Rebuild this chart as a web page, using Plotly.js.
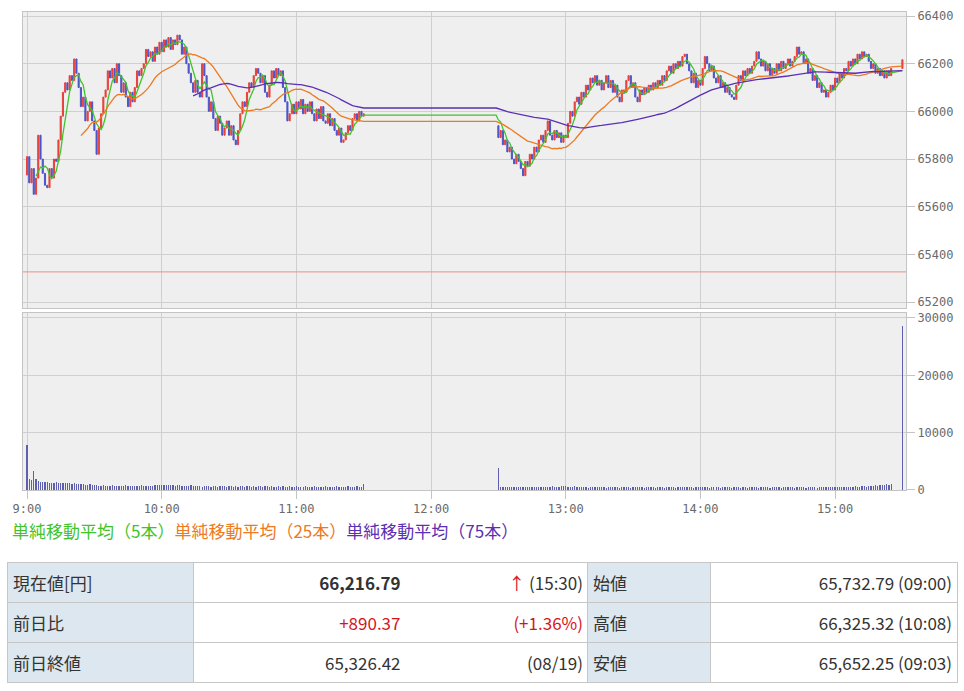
<!DOCTYPE html>
<html><head><meta charset="utf-8">
<script src="https://cdn.plot.ly/plotly-3.0.1.min.js"></script>
<style>
body{margin:0;background:#fff;width:964px;height:691px;overflow:hidden;position:relative;font-family:"Noto Sans CJK JP","Noto Sans",sans-serif;}
#chart{position:absolute;left:0;top:0;width:964px;height:520px;}
#legend{position:absolute;left:12px;top:520px;font-size:17px;line-height:22px;white-space:nowrap;}
table{position:absolute;left:7px;top:562px;width:950px;border-collapse:collapse;font-size:17px;color:#333;table-layout:fixed;}
td{height:39px;border:1px solid #c6c6c6;padding:0 5px;white-space:nowrap;}
td.h{background:#dde7ef;text-align:left;}
td.v{text-align:right;}
td.a{border-right:none;}
td.b{border-left:none;padding-right:4px;}
.red{color:#d7141e;}
</style>
</head><body>
<div id="chart"></div>
<div id="legend"></div>
<table id="tbl"></table>
<script>
// ---- data ----
const amStartMin = 0;         // 9:00
const pmStartMin = 210;       // 12:30
const closeAuctionMin = 390;  // 15:30
const dayOpen = 65732.79;
const pmOpen = 65940;
const prevClose = 65326.42;

const amClose = [
65810,65700,65760,65652,65720,65900,65800,65740,65690,65680,65760,65720,65800,65790,65880,65980,66080,66120,66090,66150,66130,66220,66160,66100,66020,66060,65960,66000,66040,65960,
65920,65820,65930,65990,66060,66090,66170,66140,66180,66120,66200,66150,66080,66120,66060,66020,66080,66040,66100,66170,66150,66180,66200,66260,66230,66250,66210,66270,66240,66290,
66250,66300,66270,66310,66260,66300,66280,66320,66300,66240,66270,66200,66160,66120,66080,66130,66080,66060,66200,66150,66060,66000,66040,65970,65920,65980,65950,65900,65930,65960,
65900,65940,65880,65860,65920,65990,66040,66020,66080,66120,66100,66150,66180,66160,66120,66150,66080,66060,66110,66170,66140,66180,66150,66170,66100,66040,65960,65990,66030,65990,
66040,66010,66050,65990,66030,66000,66040,65990,65960,66010,65970,66020,65960,65950,65990,65940,65970,65920,65900,65930,65870,65880,65910,65940,65920,65970,65990,65960,66000,65980,65990
];
const pmClose = [
65890,65920,65860,65880,65830,65850,65800,65780,65820,65790,65760,65730,65790,65770,65820,65800,65850,65830,65880,65900,65870,65920,65960,65900,65880,65920,65890,65910,65870,65900,
65890,65950,66000,65980,66040,66060,66030,66080,66060,66110,66090,66140,66120,66150,66110,66130,66090,66120,66150,66100,66130,66080,66110,66060,66040,66090,66080,66130,66150,66100,
66120,66060,66040,66090,66070,66100,66080,66110,66090,66120,66100,66130,66110,66150,66130,66170,66190,66160,66200,66180,66210,66190,66230,66240,66200,66170,66120,66160,66100,66130,
66110,66180,66230,66200,66170,66190,66140,66120,66150,66100,66120,66080,66100,66070,66060,66050,66110,66150,66130,66170,66150,66180,66160,66190,66210,66250,66220,66190,66210,66170,
66200,66150,66180,66160,66200,66170,66210,66180,66200,66220,66190,66210,66230,66270,66240,66250,66200,66220,66160,66180,66130,66150,66100,66120,66080,66090,66060,66080,66110,66090,
66140,66120,66160,66140,66180,66170,66210,66190,66220,66200,66240,66220,66250,66230,66240,66210,66180,66200,66160,66180,66150,66170,66140,66170,66150,66180
];
const auctionClose = 66216.79;

const amVolume = [
7900,1900,1800,3300,1900,1500,1450,1400,1350,1400,1300,1250,1300,1350,1250,1200,1150,1250,1300,1200,1100,1150,1050,1000,1100,1000,950,900,1000,950,
800,850,700,750,800,650,750,700,800,650,700,750,650,700,800,700,650,750,700,650,700,800,750,650,700,750,700,800,850,900,
900,800,850,950,900,800,750,850,800,700,750,650,700,800,650,700,750,650,600,700,650,700,600,650,700,600,650,700,650,600,
650,700,600,650,600,700,650,600,650,700,600,650,600,700,650,600,650,700,600,650,600,550,650,600,700,600,550,650,600,550,
650,600,550,600,650,500,600,550,650,600,550,500,600,650,550,600,500,550,650,600,550,600,500,650,550,600,550,650,600,550,1050
];
const pmVolume = [
3800,600,500,550,450,500,600,450,500,550,450,500,600,550,500,450,500,550,600,500,450,550,500,600,650,500,550,600,700,650,
700,550,600,500,650,550,450,500,550,450,400,550,500,450,600,500,450,550,400,500,450,550,500,450,400,500,550,450,500,400,
550,500,450,600,500,400,450,550,500,450,400,500,550,450,400,500,450,550,500,400,450,500,600,450,500,550,450,400,500,450,
550,600,500,450,400,550,500,450,500,400,450,550,500,450,400,500,450,550,400,500,450,400,550,500,450,500,400,450,550,500,
450,400,500,550,450,500,400,450,550,500,450,500,400,550,450,500,450,400,500,550,450,500,400,450,500,550,450,500,600,550,
500,450,550,500,600,500,550,600,500,650,550,600,700,650,600,700,650,750,800,700,850,900,800,1000,950,1050
];
const auctionVolume = 28600;

const timeTickVals = [0,60,120,180,240,300,360];
const timeTickText = ['9:00','10:00','11:00','12:00','13:00','14:00','15:00'];
const priceTicks = [65200,65400,65600,65800,66000,66200,66400];
const volumeTicks = [0,10000,20000,30000];

const maSpecs = [
  {n:5,  label:'単純移動平均（5本）',  color:'#3fc42c'},
  {n:25, label:'単純移動平均（25本）', color:'#ec7a22'},
  {n:75, label:'単純移動平均（75本）', color:'#5b2fb3'}
];

const tableRows = [
  ['現在値[円]', '<b>66,216.79</b>', '<span class="red">↑</span> (15:30)', '始値', '65,732.79 (09:00)'],
  ['前日比', '<span class="red">+890.37</span>', '<span class="red">(+1.36%)</span>', '高値', '66,325.32 (10:08)'],
  ['前日終値', '65,326.42', '(08/19)', '安値', '65,652.25 (09:03)']
];

// ---- build series ----
const t=[], c=[], v=[];
amClose.forEach((p,i)=>{t.push(amStartMin+i); c.push(p); v.push(amVolume[i]);});
const pmIdx = c.length;
pmClose.forEach((p,i)=>{t.push(pmStartMin+i); c.push(p); v.push(pmVolume[i]);});
t.push(closeAuctionMin); c.push(auctionClose); v.push(auctionVolume);
const o = c.map((p,i)=> i===0 ? dayOpen : (i===pmIdx ? pmOpen : c[i-1]));
const hi = c.map((p,i)=>Math.max(p,o[i]));
const lo = c.map((p,i)=>Math.min(p,o[i]));

function maTrace(n,color){
  const xs=[], ys=[];
  for(let i=n-1;i<c.length;i++){
    let s=0; for(let k=i-n+1;k<=i;k++) s+=c[k];
    if(i===pmIdx && ys.length){ xs.push(pmStartMin-1); ys.push(ys[ys.length-1]); }
    xs.push(t[i]); ys.push(s/n);
  }
  return {type:'scatter',mode:'lines',x:xs,y:ys,xaxis:'x2',yaxis:'y2',
          line:{color:color,width:1.3},hoverinfo:'skip'};
}

const xRange = [-1.8, 391.6];
const traces = [
  {type:'scatter',mode:'lines',x:xRange,y:[prevClose,prevClose],xaxis:'x2',yaxis:'y2',
   line:{color:'#f08c8c',width:1},hoverinfo:'skip'},
  {type:'candlestick',x:t,open:o,high:hi,low:lo,close:c,xaxis:'x2',yaxis:'y2',
   increasing:{line:{color:'#e8413c',width:1},fillcolor:'#e8413c'},
   decreasing:{line:{color:'#4b55c8',width:1},fillcolor:'#4b55c8'},
   whiskerwidth:0,hoverinfo:'skip'},
  ...maSpecs.map(s=>maTrace(s.n,s.color)),
  {type:'bar',x:t,y:v,xaxis:'x',yaxis:'y',width:0.55,
   marker:{color:'#5f5fb0',line:{width:0}},hoverinfo:'skip'}
];

const axisCommon = {showline:true,mirror:true,linecolor:'#c4c4c4',linewidth:1,
  gridcolor:'#cfcfcf',gridwidth:1,zeroline:false,fixedrange:true};
const tickFont = {family:'DejaVu Sans Mono',size:12,color:'#6a6a6a'};

const layout = {
  width:964,height:520,
  margin:{l:23,r:58,t:12,b:30},
  paper_bgcolor:'#ffffff',plot_bgcolor:'#efefef',
  showlegend:false,
  bargap:0,
  xaxis:Object.assign({},axisCommon,{anchor:'y',range:xRange,tickmode:'array',
    tickvals:timeTickVals,ticktext:timeTickText,ticks:'outside',ticklen:8,tickcolor:'#c4c4c4',
    tickfont:tickFont}),
  yaxis:Object.assign({},axisCommon,{domain:[0,0.3703],range:[0,30870],side:'right',
    tickmode:'array',tickvals:volumeTicks,tickformat:'d',ticks:'outside',ticklen:8,tickcolor:'#c4c4c4',
    tickfont:tickFont}),
  xaxis2:Object.assign({},axisCommon,{anchor:'y2',matches:'x',range:xRange,tickmode:'array',
    tickvals:timeTickVals,showticklabels:false,ticks:'',rangeslider:{visible:false}}),
  yaxis2:Object.assign({},axisCommon,{domain:[0.3808,1],range:[65175,66417],side:'right',
    tickmode:'array',tickvals:priceTicks,tickformat:'d',ticks:'outside',ticklen:8,tickcolor:'#c4c4c4',
    tickfont:tickFont})
};

Plotly.newPlot('chart',traces,layout,{staticPlot:true,displayModeBar:false});

// legend
document.getElementById('legend').innerHTML =
  maSpecs.map(s=>'<span style="color:'+s.color+'">'+s.label+'</span>').join('');

// table
const colW = [186,212,182,123,247];
let html = '<colgroup>'+colW.map(w=>'<col style="width:'+w+'px">').join('')+'</colgroup>';
tableRows.forEach(r=>{
  html += '<tr><td class="h">'+r[0]+'</td><td class="v a">'+r[1]+'</td><td class="v b">'+r[2]+
          '</td><td class="h">'+r[3]+'</td><td class="v">'+r[4]+'</td></tr>';
});
document.getElementById('tbl').innerHTML = html;
</script>
</body></html>
